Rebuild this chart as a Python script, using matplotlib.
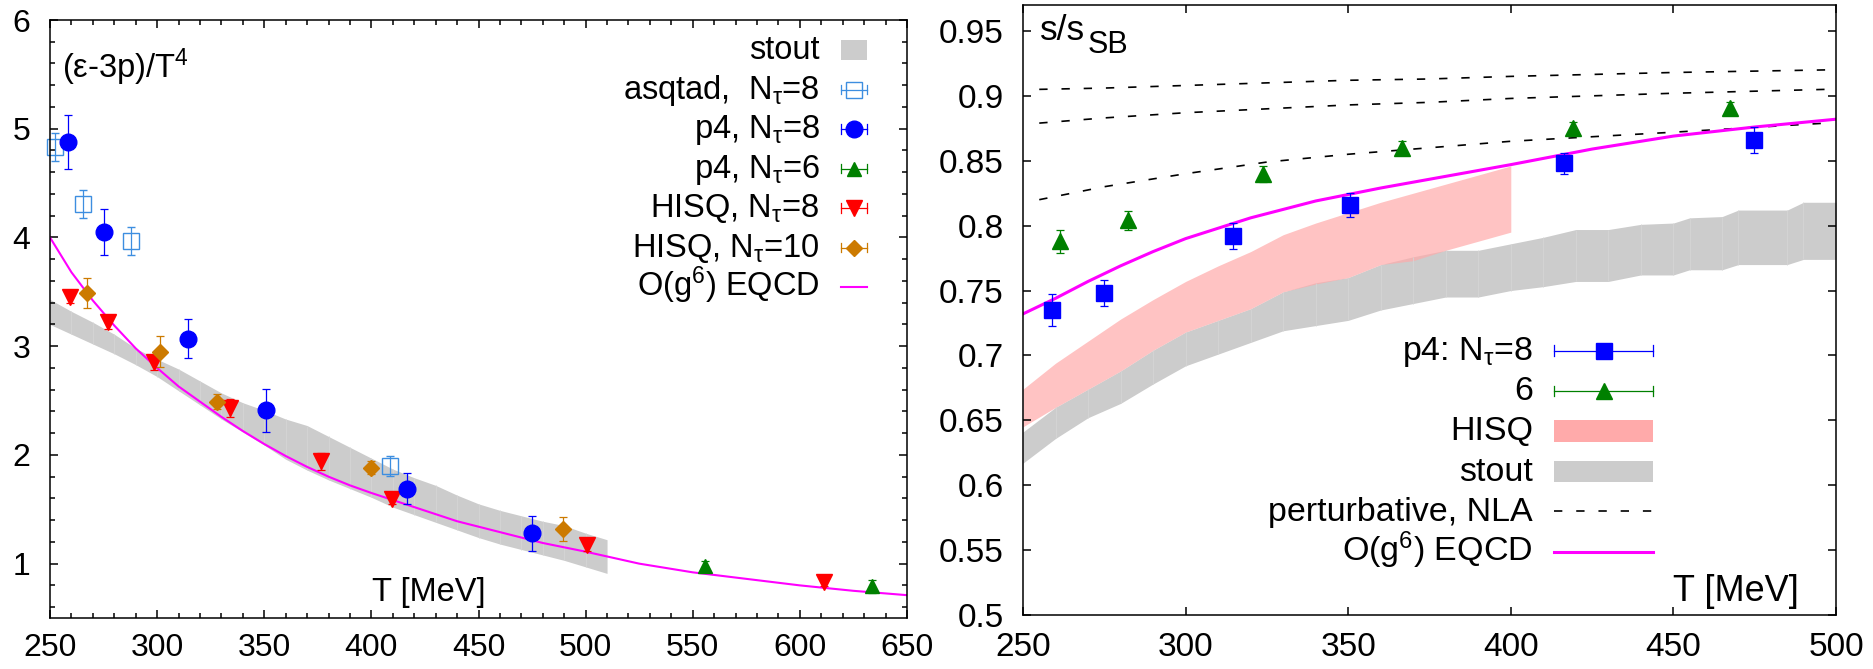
#!/usr/bin/env python3
# trace anomaly and entropy density vs T -- two panels, gnuplot-like look
import numpy as np
import matplotlib
matplotlib.use('Agg')
import matplotlib.pyplot as plt
from matplotlib.lines import Line2D
from matplotlib.patches import Rectangle
from matplotlib.legend_handler import HandlerBase
from matplotlib.ticker import MultipleLocator, FuncFormatter

plt.rcParams['font.family'] = ['Liberation Sans', 'DejaVu Sans']
plt.rcParams['mathtext.fontset'] = 'custom'
plt.rcParams['mathtext.rm'] = 'Liberation Sans'
plt.rcParams['mathtext.it'] = 'Liberation Sans:italic'
plt.rcParams['mathtext.bf'] = 'Liberation Sans:bold'
plt.rcParams['lines.scale_dashes'] = False

# left panel fonts are a touch smaller than right panel ones in the original
FS_L, FS_R = 23, 24
LEG_L, LEG_R = 23.5, 24.5

# ---------------- left panel: (e-3p)/T^4 ----------------
asq_T = [252.3, 265.4, 287.9, 408.9]
asq_y = [4.83, 4.31, 3.97, 1.90]
asq_e = [0.13, 0.13, 0.13, 0.09]

p4n8_T = [258.4, 275.2, 314.5, 350.9, 416.8, 475.2]
p4n8_y = [4.88, 4.05, 3.07, 2.41, 1.69, 1.28]
p4n8_e = [0.25, 0.21, 0.18, 0.20, 0.14, 0.16]

p4n6_T = [555.6, 633.6]
p4n6_y = [0.98, 0.79]
p4n6_e = [0.04, 0.06]

hisq8_T = [259.3, 277.1, 298.6, 334.1, 376.6, 409.8, 500.5, 611.2]
hisq8_y = [3.45, 3.22, 2.85, 2.43, 1.94, 1.59, 1.17, 0.83]
hisq8_e = [0.05, 0.06, 0.07, 0.08, 0.08, 0.04, 0.05, 0.04]

hisq10_T = [267.3, 301.4, 328.0, 400.0, 489.3]
hisq10_y = [3.49, 2.95, 2.49, 1.88, 1.32]
hisq10_e = [0.14, 0.14, 0.07, 0.06, 0.11]

stoutL_T = [250, 260, 270, 280, 290, 300, 310, 320, 330, 340, 350, 360, 370, 380,
            390, 400, 410, 420, 430, 440, 450, 460, 470, 480, 490, 500, 510]
stoutL_hi = [3.43, 3.32, 3.22, 3.11, 2.98, 2.88, 2.79, 2.68, 2.57, 2.48, 2.41, 2.33, 2.27, 2.17,
             2.07, 1.97, 1.87, 1.79, 1.72, 1.63, 1.55, 1.49, 1.44, 1.39, 1.35, 1.28, 1.22]
stoutL_lo = [3.20, 3.11, 3.02, 2.93, 2.83, 2.72, 2.59, 2.46, 2.33, 2.21, 2.09, 1.96, 1.86, 1.77,
             1.69, 1.61, 1.52, 1.45, 1.38, 1.31, 1.24, 1.18, 1.13, 1.08, 1.03, 0.97, 0.91]

eqcdL_T = [250, 260, 270, 280, 290, 300, 310, 320, 330, 340, 350, 360, 370, 380, 390,
           400, 420, 440, 460, 480, 500, 525, 550, 575, 600, 625, 650]
eqcdL_y = [4.00, 3.68, 3.42, 3.19, 2.98, 2.80, 2.63, 2.49, 2.35, 2.22, 2.10, 1.99, 1.89, 1.80,
           1.72, 1.65, 1.52, 1.39, 1.29, 1.19, 1.11, 1.00, 0.92, 0.86, 0.80, 0.75, 0.71]

# ---------------- right panel: s/s_SB ----------------
sq8_T = [258.9, 274.9, 314.5, 350.5, 416.3, 474.7]
sq8_y = [0.735, 0.748, 0.792, 0.816, 0.848, 0.866]
sq8_e = [0.012, 0.010, 0.010, 0.009, 0.008, 0.010]

tr6_T = [261.4, 282.3, 323.8, 366.5, 419.0, 467.3]
tr6_y = [0.788, 0.804, 0.840, 0.860, 0.875, 0.891]
tr6_e = [0.009, 0.007, 0.006, 0.005, 0.005, 0.004]

hisqR_T = [250, 260, 270, 280, 290, 300, 310, 320, 330, 340, 350, 360, 370, 380, 390, 400]
hisqR_hi = [0.674, 0.694, 0.711, 0.728, 0.743, 0.757, 0.769, 0.780, 0.793, 0.802, 0.810,
            0.818, 0.825, 0.832, 0.839, 0.846]
hisqR_lo = [0.645, 0.660, 0.674, 0.688, 0.704, 0.718, 0.727, 0.736, 0.749, 0.755, 0.760,
            0.770, 0.773, 0.781, 0.788, 0.795]

stoutR_T = [250, 260, 270, 280, 290, 300, 310, 320, 330, 340, 350, 360, 370, 380, 390,
            400, 410, 420, 430, 440, 450, 455, 465, 470, 485, 490, 500]
stoutR_hi = [0.641, 0.660, 0.674, 0.688, 0.704, 0.718, 0.727, 0.736, 0.749, 0.756, 0.760, 0.770,
             0.776, 0.781, 0.781, 0.786, 0.791, 0.797, 0.797, 0.801, 0.802, 0.806, 0.807, 0.812,
             0.812, 0.818, 0.818]
stoutR_lo = [0.617, 0.636, 0.652, 0.663, 0.678, 0.692, 0.701, 0.710, 0.719, 0.723, 0.727, 0.735,
             0.740, 0.745, 0.745, 0.750, 0.753, 0.757, 0.757, 0.762, 0.762, 0.766, 0.766, 0.770,
             0.770, 0.774, 0.774]

nla_T = [255, 275, 300, 325, 350, 375, 400, 450, 497]
nla_a = [0.905, 0.906, 0.908, 0.910, 0.912, 0.913, 0.915, 0.918, 0.920]
nla_b = [0.879, 0.883, 0.887, 0.890, 0.893, 0.895, 0.898, 0.902, 0.905]
nla_c = [0.820, 0.830, 0.840, 0.849, 0.855, 0.860, 0.865, 0.872, 0.879]

eqcdR_T = [250, 260, 270, 280, 290, 300, 320, 340, 360, 380, 400, 425, 450, 475, 500]
eqcdR_y = [0.732, 0.744, 0.757, 0.769, 0.780, 0.790, 0.806, 0.819, 0.829, 0.838, 0.847,
           0.859, 0.869, 0.876, 0.882]

C_ASQ = '#3d8ee0'
C_P4 = '#0000ff'
C_G = '#008000'
C_R = '#ff0000'
C_O = '#cc7a00'
C_M = '#ff00ff'
C_GREY = '#cccccc'
C_PINK = '#ffaaaa'
STREAK = '#d5d5d5'
NLA_DASH = (6, 10)


class Key:
    # one gnuplot-style key sample: 'err' (bar+caps+point), 'box' or 'line'
    def __init__(self, kind, color, marker=None, ms=0, mfc=None, lw=1.5, dashes=None):
        self.kind, self.color, self.marker, self.ms = kind, color, marker, ms
        self.mfc = color if mfc is None else mfc
        self.lw, self.dashes = lw, dashes


class KeyHandler(HandlerBase):
    def create_artists(self, legend, h, xdescent, ydescent, width, height, fontsize, trans):
        y = 0.28 * fontsize          # sample centre above the text baseline
        x0, x1 = -xdescent, width - xdescent
        out = []
        if h.kind == 'err':
            cap = 0.15 * fontsize
            out.append(Line2D([x0, x1], [y, y], color=h.color, lw=0.9))
            out.append(Line2D([x0, x0, np.nan, x1, x1],
                              [y - cap, y + cap, np.nan, y - cap, y + cap],
                              color=h.color, lw=0.9))
            out.append(Line2D([(x0 + x1) / 2], [y], ls='none', marker=h.marker, ms=h.ms,
                              mfc=h.mfc, mec=h.color, mew=1.0))
        elif h.kind == 'box':
            bh = 0.62 * fontsize
            out.append(Rectangle((x0, y - bh / 2), width, bh, facecolor=h.color,
                                 edgecolor='none'))
        else:
            ln = Line2D([x0, x1], [y, y], color=h.color, lw=h.lw)
            if h.dashes:
                ln.set_dashes(h.dashes)
            out.append(ln)
        for a in out:
            a.set_transform(trans)
        return out


def style_axes(ax, fs):
    for s in ax.spines.values():
        s.set_linewidth(1.1)
    ax.tick_params(which='both', direction='in', top=True, right=True, width=1.1,
                   labelsize=fs)
    ax.tick_params(which='major', length=6)
    ax.tick_params(which='minor', length=3.5)


HH = 2.0   # tall handle boxes so every key row has the same height


def gp_legend(ax, handles, labels, fs, anchor, loc, hlen, pitch_px):
    pitch_pt = pitch_px / 100 * 72
    row = fs * HH - 0.35 * fs * (HH - 0.7)
    return ax.legend(handles, labels, handler_map={Key: KeyHandler()}, loc=loc,
                     bbox_to_anchor=anchor, frameon=False, markerfirst=False, fontsize=fs,
                     borderpad=0, borderaxespad=0, handlelength=hlen, handleheight=HH,
                     handletextpad=0.63, labelspacing=(pitch_pt - row) / fs)


tau = r'$_\mathrm{\tau}$'

fig = plt.figure(figsize=(18.74, 6.69), dpi=100)
ax1 = fig.add_axes([50 / 1874, 1 - 618 / 669, 857 / 1874, 598 / 669])
ax2 = fig.add_axes([1023 / 1874, 1 - 615 / 669, 813 / 1874, 610 / 669])

# ---- left ----
ax1.fill_between(stoutL_T, stoutL_lo, stoutL_hi, color=C_GREY, lw=0)
ax1.vlines(stoutL_T[1:-1], stoutL_lo[1:-1], stoutL_hi[1:-1], color=STREAK, lw=0.6)
ax1.plot(eqcdL_T, eqcdL_y, color=C_M, lw=1.5)
ek = dict(ls='none', capsize=3, elinewidth=0.9, capthick=0.9, clip_on=False)
ax1.errorbar(asq_T, asq_y, yerr=asq_e, marker='s', ms=11, mfc='none', mec=C_ASQ,
             mew=1.0, color=C_ASQ, **ek)
ax1.errorbar(hisq8_T, hisq8_y, yerr=hisq8_e, marker='v', ms=12, color=C_R, **ek)
ax1.errorbar(hisq10_T, hisq10_y, yerr=hisq10_e, marker='D', ms=8.5, color=C_O, **ek)
ax1.errorbar(p4n6_T, p4n6_y, yerr=p4n6_e, marker='^', ms=10, color=C_G, **ek)
ax1.errorbar(p4n8_T, p4n8_y, yerr=p4n8_e, marker='o', ms=12, color=C_P4, **ek)

ax1.set_xlim(250, 650)
ax1.set_ylim(0.5, 6)
ax1.xaxis.set_major_locator(MultipleLocator(50))
ax1.xaxis.set_minor_locator(MultipleLocator(10))
ax1.yaxis.set_major_locator(MultipleLocator(1))
ax1.yaxis.set_minor_locator(MultipleLocator(0.2))
style_axes(ax1, FS_L)
ax1.tick_params(axis='x', pad=11)
ax1.tick_params(axis='y', pad=14)

ax1.text(0.014, 0.903, '(ε-3p)/T$^4$', transform=ax1.transAxes, fontsize=LEG_L,
         va='baseline')
ax1.text(0.3757, 0.029, 'T [MeV]', transform=ax1.transAxes, fontsize=LEG_L, va='baseline')

hL = [Key('box', C_GREY),
      Key('err', C_ASQ, 's', 11, 'none'),
      Key('err', C_P4, 'o', 12),
      Key('err', C_G, '^', 10),
      Key('err', C_R, 'v', 12),
      Key('err', C_O, 'D', 8.5),
      Key('line', C_M, lw=1.5)]
lL = ['stout', 'asqtad,  N' + tau + '=8', 'p4, N' + tau + '=8', 'p4, N' + tau + '=6',
      'HISQ, N' + tau + '=8', 'HISQ, N' + tau + '=10', 'O(g$^6$) EQCD']
gp_legend(ax1, hL, lL, LEG_L, (0.9533, 0.994), 'upper right', 0.81, 39.5)

# ---- right ----
ax2.fill_between(stoutR_T, stoutR_lo, stoutR_hi, color=C_GREY, lw=0)
ax2.vlines(stoutR_T[1:-1], stoutR_lo[1:-1], stoutR_hi[1:-1], color=STREAK, lw=0.6)
ax2.fill_between(hisqR_T, hisqR_lo, hisqR_hi, color=C_PINK, alpha=0.7, lw=0)
for nla in (nla_a, nla_b, nla_c):
    ax2.plot(nla_T, nla, color='black', lw=1.2, dashes=NLA_DASH)
ax2.plot(eqcdR_T, eqcdR_y, color=C_M, lw=2.2)
ax2.errorbar(tr6_T, tr6_y, yerr=tr6_e, marker='^', ms=11, color=C_G, **ek)
ax2.errorbar(sq8_T, sq8_y, yerr=sq8_e, marker='s', ms=12, color=C_P4, **ek)

ax2.set_xlim(250, 500)
ax2.set_ylim(0.5, 0.97)
ax2.xaxis.set_major_locator(MultipleLocator(50))
ax2.yaxis.set_major_locator(MultipleLocator(0.05))
ax2.yaxis.set_major_formatter(FuncFormatter(lambda v, p: '%g' % round(v, 2)))
style_axes(ax2, FS_R)
ax2.tick_params(axis='x', pad=12)
ax2.tick_params(axis='y', pad=14)

# s/s_SB with a nearly full-size subscript, as gnuplot drew it
ax2.text(0.021, 0.9426, 's/s', transform=ax2.transAxes, fontsize=25.5, va='baseline')
ax2.text(0.0795, 0.9208, 'SB', transform=ax2.transAxes, fontsize=22, va='baseline')
ax2.text(0.7995, 0.0234, 'T [MeV]', transform=ax2.transAxes, fontsize=26, va='baseline')

hR = [Key('err', C_P4, 's', 12),
      Key('err', C_G, '^', 11),
      Key('box', C_PINK),
      Key('box', C_GREY),
      Key('line', 'black', lw=1.2, dashes=NLA_DASH),
      Key('line', C_M, lw=2.2)]
lR = ['p4: N' + tau + '=8', '6', 'HISQ', 'stout', 'perturbative, NLA', 'O(g$^6$) EQCD']
gp_legend(ax2, hR, lR, LEG_R, (0.7749, 0.063), 'lower right', 2.9, 40.2)

fig.savefig('out.png', dpi=100)
